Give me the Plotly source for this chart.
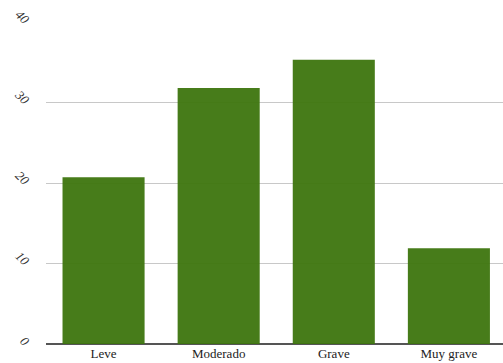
import plotly.graph_objects as go

categories = ["Leve", "Moderado", "Grave", "Muy grave"]
values = [20.7, 31.8, 35.3, 11.9]
y_ticks = [0, 10, 20, 30, 40]

fig = go.Figure(go.Bar(
    x=categories, y=values,
    marker=dict(color="rgb(62,118,14)", line=dict(width=0)),
    opacity=0.95, width=0.713,
))
fig.update_layout(
    width=503, height=363,
    margin=dict(l=46, r=0, t=22, b=19),
    paper_bgcolor="white", plot_bgcolor="white",
    showlegend=False,
    font=dict(family="Liberation Serif", size=13, color="#222"),
)
fig.update_xaxes(range=[-0.5, 3.47], showgrid=False, ticks="", showline=False,
                 tickfont=dict(family="Liberation Serif", size=13, color="#222"))
fig.update_yaxes(range=[0, 40], tickvals=y_ticks, showgrid=True, gridcolor="#c8c8c8",
                 gridwidth=1, zeroline=True, zerolinecolor="#555", zerolinewidth=1.5,
                 tickangle=45, ticks="outside", ticklen=14, tickcolor="rgba(0,0,0,0)",
                 tickfont=dict(family="Liberation Serif", size=13, color="#333", style="italic"))
fig.write_html("out.html")
